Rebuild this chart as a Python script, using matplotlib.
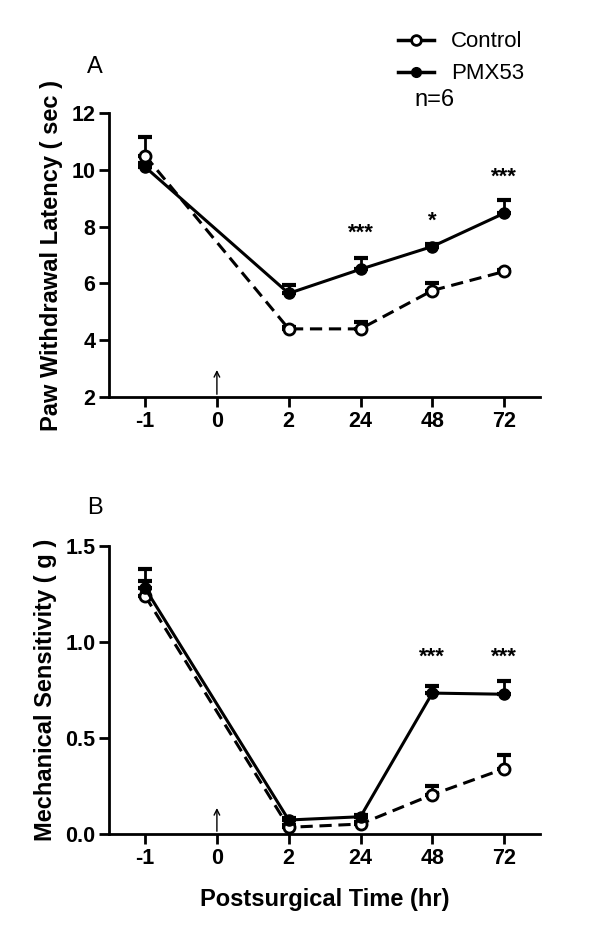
import numpy as np
import matplotlib
matplotlib.use("Agg")
import matplotlib.pyplot as plt
from matplotlib.lines import Line2D

plt.rcParams['font.family'] = ['Liberation Sans', 'DejaVu Sans']

x_labels = ['-1', '0', '2', '24', '48', '72']
x_idx = [0, 2, 3, 4, 5]  # no measurement at time 0 (surgery)

# panel A: paw withdrawal latency (sec)
ctrl_a = [10.5, 4.4, 4.4, 5.75, 6.42]
ctrl_a_err = [0.65, 0.05, 0.25, 0.25, 0.05]
pmx_a = [10.1, 5.65, 6.5, 7.3, 8.47]
pmx_a_err = [0.15, 0.3, 0.38, 0.1, 0.45]
stars_a = [(3, 7.75, '***'), (4, 8.2, '*'), (5, 9.75, '***')]

# panel B: mechanical sensitivity (g)
ctrl_b = [1.24, 0.035, 0.052, 0.205, 0.34]
ctrl_b_err = [0.08, 0.01, 0.01, 0.045, 0.07]
pmx_b = [1.28, 0.073, 0.09, 0.734, 0.728]
pmx_b_err = [0.1, 0.01, 0.01, 0.035, 0.07]
stars_b = [(4, 0.92, '***'), (5, 0.92, '***')]

fig = plt.figure(figsize=(6, 9.44), dpi=100)
ax_a = fig.add_axes([0.182, 0.5794, 0.718, 0.3009])
ax_b = fig.add_axes([0.182, 0.1165, 0.718, 0.3051])


def draw_panel(ax, ctrl, ctrl_err, pmx, pmx_err, stars):
    z = np.zeros(len(ctrl))
    ax.errorbar(x_idx, ctrl, yerr=[z, ctrl_err], fmt='none', ecolor='black',
                elinewidth=2, capsize=5, capthick=3, zorder=2)
    ax.errorbar(x_idx, pmx, yerr=[z, pmx_err], fmt='none', ecolor='black',
                elinewidth=2, capsize=5, capthick=3, zorder=2)
    ax.plot(x_idx, ctrl, color='black', linestyle=(0, (4, 2.2)), linewidth=2.2,
            marker='o', markersize=8, markerfacecolor='white',
            markeredgewidth=2, zorder=3)
    ax.plot(x_idx, pmx, color='black', linestyle='-', linewidth=2.2,
            marker='o', markersize=8, markerfacecolor='black', zorder=4)
    for xi, yi, s in stars:
        ax.text(xi, yi, s, ha='center', va='center', fontsize=16,
                fontweight='bold')
    ax.set_xlim(-0.5, 5.5)
    ax.set_xticks(range(len(x_labels)))
    ax.set_xticklabels(x_labels)
    for side in ['top', 'right']:
        ax.spines[side].set_visible(False)
    for side in ['left', 'bottom']:
        ax.spines[side].set_linewidth(2)
    ax.tick_params(direction='out', length=7, width=2, labelsize=15.5, pad=3)
    for lab in ax.get_xticklabels() + ax.get_yticklabels():
        lab.set_fontweight('bold')


draw_panel(ax_a, ctrl_a, ctrl_a_err, pmx_a, pmx_a_err, stars_a)
ax_a.set_ylim(2, 12)
ax_a.set_yticks([2, 4, 6, 8, 10, 12])
for lab in ax_a.get_yticklabels():
    lab.set_fontweight('bold')
ax_a.set_ylabel('Paw Withdrawal Latency ( sec )', fontsize=17,
                fontweight='bold', labelpad=6)
ax_a.annotate('', xy=(1, 3.05), xytext=(1, 2.0),
              arrowprops=dict(arrowstyle='->', lw=1, color='black'))

draw_panel(ax_b, ctrl_b, ctrl_b_err, pmx_b, pmx_b_err, stars_b)
ax_b.set_ylim(0, 1.5)
ax_b.set_yticks([0, 0.5, 1.0, 1.5])
ax_b.set_yticklabels(['0.0', '0.5', '1.0', '1.5'])
for lab in ax_b.get_yticklabels():
    lab.set_fontweight('bold')
ax_b.set_ylabel('Mechanical Sensitivity ( g )', fontsize=17,
                fontweight='bold', labelpad=6)
ax_b.set_xlabel('Postsurgical Time (hr)', fontsize=17, fontweight='bold',
                labelpad=14)
ax_b.annotate('', xy=(1, 0.15), xytext=(1, 0.0),
              arrowprops=dict(arrowstyle='->', lw=1, color='black'))

fig.text(0.158, 0.929, 'A', fontsize=17, ha='center', va='center')
fig.text(0.158, 0.462, 'B', fontsize=17, ha='center', va='center')

handles = [Line2D([], [], color='black', linewidth=2.5, marker='o',
                  markersize=7, markerfacecolor='white', markeredgewidth=2),
           Line2D([], [], color='black', linewidth=2.5, marker='o',
                  markersize=7, markerfacecolor='black')]
fig.legend(handles, ['Control', 'PMX53'], loc='upper left',
           bbox_to_anchor=(0.63, 0.988), frameon=False, fontsize=16,
           handlelength=1.6, handletextpad=0.8, labelspacing=0.5)
fig.text(0.69, 0.894, 'n=6', fontsize=17, ha='left', va='center')

fig.savefig('out.png', dpi=100)
